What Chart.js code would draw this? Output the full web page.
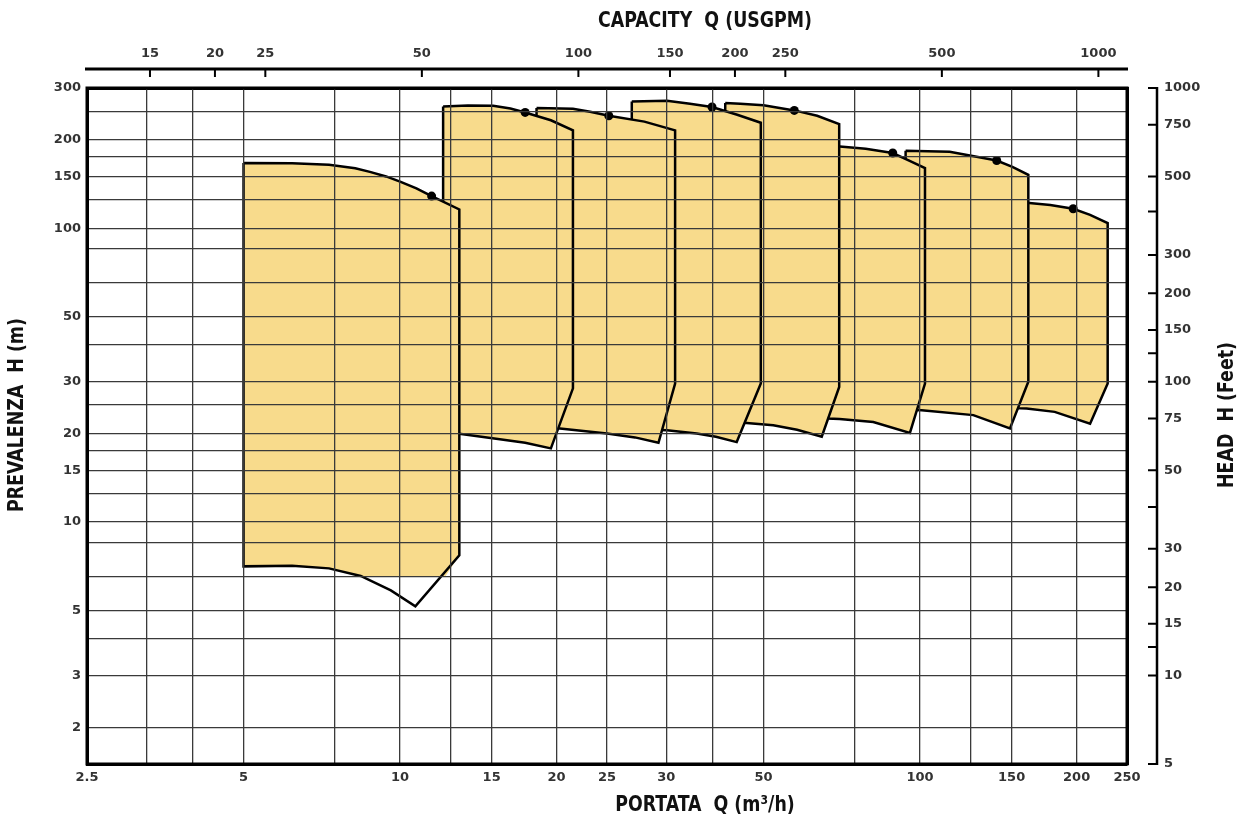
<!DOCTYPE html>
<html>
<head>
<meta charset="utf-8">
<title>Campo di selezione pompe</title>
<script src="https://cdn.jsdelivr.net/npm/chart.js@4.4.1/dist/chart.umd.min.js"></script>
<style>
  html, body { margin: 0; padding: 0; background: #fff; }
  #wrap { width: 1245px; height: 821px; }
</style>
</head>
<body>
<div id="wrap"><canvas id="pumpChart" width="1245" height="821"></canvas></div>
<script>
// portata Q (m3/h), asse in basso
const qTickValues = [2.5, 5, 10, 15, 20, 25, 32.5, 50, 100, 150, 200, 250]
const qTickLabels = ['2.5', '5', '10', '15', '20', '25', '30', '50', '100', '150', '200', '250']
const qGridValues = [3.25, 4, 5, 7.5, 10, 12.5, 15, 20, 25, 32.5, 40, 50, 75, 100, 125, 150, 200]

// prevalenza H (m), asse a sinistra
const hTickValues = [2, 3, 5, 10, 15, 20, 30, 50, 100, 150, 200, 300]
const hGridValues = [2, 3, 4, 5, 6.5, 8.5, 10, 12.5, 15, 17.5, 20, 25, 30, 40, 50, 65, 85, 100, 125, 150, 175, 200, 250]

// capacity (USGPM), asse in alto
const gpmTickValues = [15, 20, 25, 50, 100, 150, 200, 250, 500, 1000]

// head (feet), asse a destra
const feetTickValues = [1000, 750, 500, 380, 270, 200, 150, 125, 100, 75, 50, 37.5, 27, 20, 15, 12.5, 10, 5]
const feetTickLabels = ['1000', '750', '500', '', '300', '200', '150', '', '100', '75', '50', '', '30', '20', '15', '', '10', '5']

// campi di funzionamento [Q m3/h, H m], da sinistra a destra
const pumpA = [[5.0, 166.6], [6.2, 166.3], [7.3, 164.4], [8.2, 160], [8.75, 155.5], [9.4, 150], [10.0, 144],
  [10.75, 136.5], [11.5, 128.6], [13.0, 115.8],
  [13.0, 7.7], [10.7, 5.16], [9.6, 5.85], [8.4, 6.55], [7.3, 6.95], [6.2, 7.1], [5.0, 7.06]]
const pumpAFill = [[5.0, 166.6], [6.2, 166.3], [7.3, 164.4], [8.2, 160], [8.75, 155.5], [9.4, 150], [10.0, 144],
  [10.75, 136.5], [11.5, 128.6], [13.0, 115.8],
  [13.0, 7.7], [12.2, 6.5], [8.5, 6.5], [7.3, 6.95], [6.2, 7.1], [5.0, 7.06]]
const pumpB = [[12.1, 259.7], [13.5, 261.5], [15.1, 261], [16.3, 255.5], [17.4, 247.7], [19.5, 233], [21.5, 215.2],
  [21.5, 28.5], [19.5, 17.8], [17.4, 18.6], [15.3, 19.2], [12.9, 20.0], [12.1, 20.0]]
const pumpC = [[18.3, 256.4], [21.5, 255], [23.2, 249], [25.2, 241.4], [29.5, 230.5], [33.8, 215.2],
  [33.8, 29.6], [31.4, 18.6], [28.3, 19.4], [25.0, 20.0], [20.3, 20.8], [18.3, 20.9]]
const pumpD = [[27.9, 270], [32.6, 271.5], [36.1, 265.2], [39.8, 258.4], [44.5, 243.3], [49.4, 228.5],
  [49.4, 29.6], [44.4, 18.7], [40.5, 19.5], [37.2, 20.0], [32.6, 20.5], [27.9, 20.7]]
const pumpE = [[42.2, 266.7], [45.1, 265.2], [50.0, 262], [57.3, 251.7], [63.4, 241.4], [69.9, 226.2],
  [69.9, 28.8], [64.7, 19.5], [58.0, 20.6], [52.2, 21.35], [46.4, 21.7], [42.2, 21.8]]
const pumpF = [[66.5, 189.8], [70.1, 189.8], [78.6, 186.3], [88.6, 180.2], [95.5, 169.6], [102.2, 160.1],
  [102.2, 29.6], [95.6, 20.1], [81.3, 21.9], [70.0, 22.4], [66.5, 22.5]]
const pumpG = [[93.8, 183.4], [114, 181.9], [140.4, 170], [150.5, 161.7], [161.5, 151.9],
  [161.5, 30.0], [148.9, 20.8], [126.6, 23.1], [100.7, 24.0], [93.8, 24.1]]
const pumpH = [[152.3, 121.7], [162.2, 121.7], [178, 120], [197, 116.4], [212.3, 111], [229.5, 104],
  [229.5, 29.6], [212.3, 21.6], [181.5, 23.7], [160.3, 24.35], [152.3, 24.4]]

// punti di massimo rendimento
const bepQ = [11.5, 17.4, 25.2, 39.8, 57.3, 88.6, 140.4, 197]
const bepH = [128.6, 247.7, 241.4, 258.4, 251.7, 180.2, 170, 116.4]

const fillColor = '#F8DB8C'
const gridColor = '#3a3a3a'
const labelColor = '#333'
const tickFont = { family: 'DejaVu Sans', size: 13, weight: 'bold' }
const titleFont = 'bold 21px "DejaVu Sans Condensed", "DejaVu Sans", sans-serif'

function toPoints(pts) {
  return pts.map(p => ({ x: p[0], y: p[1] }))
}

function closeRing(pts) {
  return pts.concat([pts[0]])
}

function envelope(pts) {
  return {
    type: 'line',
    data: toPoints(closeRing(pts)),
    fill: 'shape',
    backgroundColor: fillColor,
    borderColor: '#000',
    borderWidth: 2.5,
    borderJoinStyle: 'miter',
    pointRadius: 0,
    tension: 0
  }
}

function setTicks(values) {
  return scale => { scale.ticks = values.map(v => ({ value: v })) }
}

function lookup(values, labels) {
  return v => {
    const i = values.indexOf(v)
    return i < 0 ? '' : labels[i]
  }
}

// testo un po' stretto, come il font originale
function narrowText(ctx, text, x, y, angle) {
  ctx.save()
  ctx.translate(x, y)
  ctx.rotate(angle)
  ctx.scale(0.92, 1)
  ctx.fillText(text, 0, 0)
  ctx.restore()
}

// assi staccati (USGPM in alto, Feet a destra) e titoli
const sideAxes = {
  id: 'sideAxes',
  afterDraw(chart) {
    const { ctx, chartArea: a, scales } = chart
    ctx.save()
    ctx.strokeStyle = '#000'

    ctx.lineWidth = 3
    ctx.strokeRect(a.left, a.top, a.right - a.left, a.bottom - a.top)

    const ty = a.top - 19
    ctx.beginPath()
    ctx.moveTo(a.left - 2, ty)
    ctx.lineTo(a.right + 1, ty)
    ctx.stroke()
    ctx.lineWidth = 2
    ctx.beginPath()
    gpmTickValues.forEach(v => {
      const x = scales.x2.getPixelForValue(v)
      ctx.moveTo(x, ty)
      ctx.lineTo(x, ty + 8)
    })
    ctx.stroke()

    const rx = a.right + 30
    ctx.lineWidth = 2.5
    ctx.beginPath()
    ctx.moveTo(rx, scales.y2.getPixelForValue(1000) - 1)
    ctx.lineTo(rx, scales.y2.getPixelForValue(5) + 1)
    ctx.stroke()
    ctx.lineWidth = 2
    ctx.beginPath()
    feetTickValues.forEach(v => {
      const y = scales.y2.getPixelForValue(v)
      ctx.moveTo(rx - 9, y)
      ctx.lineTo(rx, y)
    })
    ctx.stroke()

    ctx.fillStyle = '#111'
    ctx.font = titleFont
    ctx.textAlign = 'center'
    ctx.textBaseline = 'middle'
    const cx = (a.left + a.right) / 2 + 98
    const cy = (a.top + a.bottom) / 2 - 11
    narrowText(ctx, 'CAPACITY  Q (USGPM)', cx, 22, 0)
    narrowText(ctx, 'PORTATA  Q (m³/h)', cx, 806, 0)
    narrowText(ctx, 'PREVALENZA  H (m)', 18, cy, -Math.PI / 2)
    narrowText(ctx, 'HEAD  H (Feet)', 1228, cy, -Math.PI / 2)
    ctx.restore()
  }
}

const ctx = document.getElementById('pumpChart')

new Chart(ctx, {
  type: 'scatter',
  data: {
    datasets: [
      {
        type: 'scatter',
        data: bepQ.map((q, i) => ({ x: q, y: bepH[i] })),
        pointRadius: 4.5,
        pointBackgroundColor: '#000',
        pointBorderWidth: 0
      },
      {
        type: 'line',
        data: toPoints(closeRing(pumpA)),
        fill: false,
        borderColor: '#000',
        borderWidth: 2.5,
        borderJoinStyle: 'miter',
        pointRadius: 0,
        tension: 0
      },
      {
        type: 'line',
        data: toPoints(pumpAFill),
        fill: 'shape',
        backgroundColor: fillColor,
        borderColor: 'rgba(0,0,0,0)',
        borderWidth: 0,
        pointRadius: 0,
        tension: 0
      },
      envelope(pumpB),
      envelope(pumpC),
      envelope(pumpD),
      envelope(pumpE),
      envelope(pumpF),
      envelope(pumpG),
      envelope(pumpH)
    ]
  },
  options: {
    responsive: false,
    animation: false,
    events: [],
    layout: { padding: 0 },
    plugins: {
      legend: { display: false },
      tooltip: { enabled: false }
    },
    scales: {
      x: {
        type: 'logarithmic',
        position: 'bottom',
        min: 2.5,
        max: 250,
        afterBuildTicks: setTicks([2.5].concat(qGridValues, [250])),
        afterFit: s => { s.height = 57 },
        grid: { color: gridColor, lineWidth: 1.3, drawTicks: false, z: 1 },
        border: { color: '#000', width: 3, z: 2 },
        ticks: {
          autoSkip: false, maxRotation: 0, padding: 6,
          color: labelColor, font: tickFont,
          callback: lookup(qTickValues, qTickLabels)
        }
      },
      y: {
        type: 'logarithmic',
        position: 'left',
        min: 1.5,
        max: 300,
        afterBuildTicks: setTicks([1.5].concat(hGridValues, [300])),
        afterFit: s => { s.width = 87 },
        grid: { color: gridColor, lineWidth: 1.3, drawTicks: false, z: 1 },
        border: { color: '#000', width: 3, z: 2 },
        ticks: {
          autoSkip: false, padding: 6,
          color: labelColor, font: tickFont,
          callback: lookup(hTickValues, hTickValues.map(String))
        }
      },
      x2: {
        type: 'logarithmic',
        position: 'top',
        min: 11.35,
        max: 1135,
        afterBuildTicks: setTicks(gpmTickValues),
        afterFit: s => { s.height = 88 },
        grid: { drawOnChartArea: false, drawTicks: false },
        border: { color: '#000', width: 3 },
        ticks: {
          autoSkip: false, maxRotation: 0, padding: 27,
          color: labelColor, font: tickFont,
          callback: v => String(v)
        }
      },
      y2: {
        type: 'logarithmic',
        position: 'right',
        min: 5,
        max: 1000,
        afterBuildTicks: setTicks(feetTickValues),
        afterFit: s => { s.width = 118 },
        grid: { drawOnChartArea: false, drawTicks: false },
        border: { color: '#000', width: 3 },
        ticks: {
          autoSkip: false, padding: 37,
          color: labelColor, font: tickFont,
          callback: lookup(feetTickValues, feetTickLabels)
        }
      }
    }
  },
  plugins: [sideAxes]
})
</script>
</body>
</html>
